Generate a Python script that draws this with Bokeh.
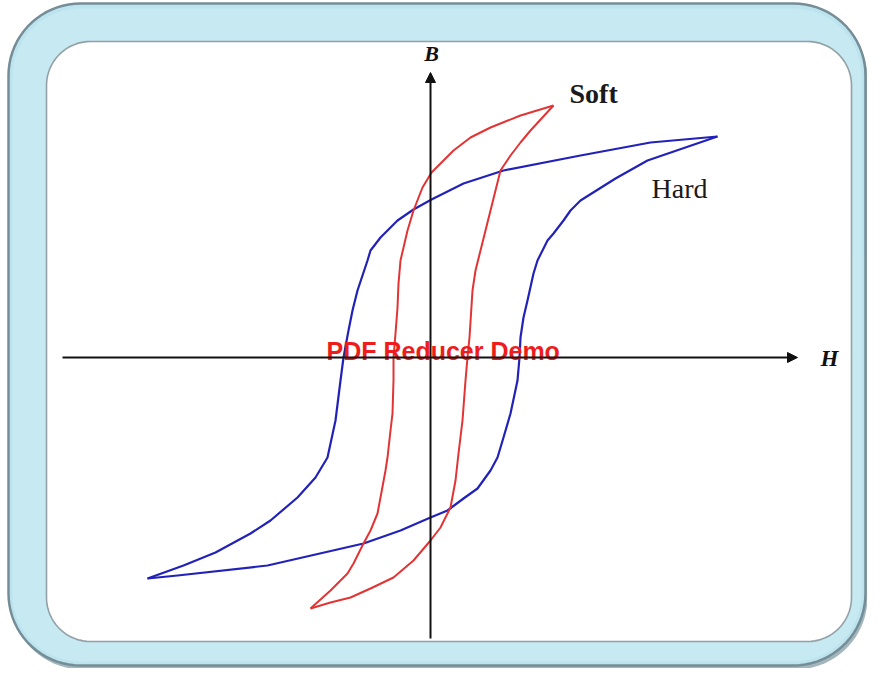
import numpy as np
from bokeh.plotting import figure
from bokeh.models import Range1d, Arrow, NormalHead
from bokeh.core.properties import value
from bokeh.embed import file_html
from bokeh.resources import INLINE

# ---------------- data (H, B in arbitrary units) ----------------
hard_desc_H = [28.7, 22.0, 15.0, 7.3, 3.3, 0.1, -1.7, -3.3, -5.0, -6.0, -6.3, -7.3, -7.8, -8.2,
               -8.7, -9.0, -9.5, -10.3, -11.5, -13.3, -16.0, -18.0, -21.5, -24.7, -28.3]
hard_desc_B = [22.1, 21.5, 20.2, 18.7, 17.4, 15.8, 14.8, 13.7, 12.0, 10.7, 9.7, 6.7, 4.7, 2.7,
               0.0, -2.3, -6.3, -10.0, -12.0, -14.0, -16.3, -17.6, -19.5, -20.8, -22.1]
hard_asc_H = [-28.3, -25.3, -16.3, -6.7, -3.0, 0.0, 1.7, 3.3, 4.7, 6.0, 6.7, 7.3, 8.0, 8.7, 8.9,
              9.0, 9.3, 9.7, 10.3, 10.7, 11.7, 12.3, 13.3, 14.0, 15.0, 18.5, 21.7, 28.7]
hard_asc_B = [-22.1, -21.8, -20.8, -18.6, -17.3, -16.0, -15.3, -14.1, -13.1, -11.3, -10.0, -8.0,
              -5.6, -2.3, 0.0, 2.0, 4.0, 5.7, 8.4, 9.7, 11.7, 12.4, 13.7, 14.7, 15.7, 17.9, 19.7, 22.1]

soft_desc_H = [12.3, 9.0, 6.0, 4.0, 2.3, 1.3, 0.1, -0.8, -1.7, -2.3, -3.0, -3.2, -3.3, -3.5, -3.7,
               -3.7, -3.8, -4.0, -4.3, -4.5, -5.0, -5.3, -6.0, -6.7, -7.7, -8.3, -10.0, -12.0]
soft_desc_B = [25.2, 24.2, 23.0, 22.0, 20.7, 19.7, 18.5, 17.0, 14.7, 12.7, 9.7, 7.4, 5.0, 2.4, 0.0,
               -2.3, -5.6, -7.3, -10.0, -11.3, -14.0, -15.6, -17.3, -18.6, -20.6, -21.6, -23.3, -25.1]
soft_asc_H = [-12.0, -10.0, -8.0, -6.0, -3.7, -1.7, 0.0, 1.0, 2.0, 2.5, 2.8, 3.2, 3.5, 3.7, 3.9,
              4.2, 4.5, 5.0, 6.0, 7.0, 8.0, 9.0, 10.0, 12.3]
soft_asc_B = [-25.1, -24.5, -24.0, -23.1, -22.0, -20.3, -18.3, -17.0, -15.0, -12.3, -9.6, -6.3, -2.3,
              0.0, 2.0, 6.7, 8.7, 10.7, 14.7, 18.7, 20.2, 21.5, 22.7, 25.2]

curve_labels = ["Soft", "Hard"]
axis_labels = ["B", "H"]
watermark = "PDF Reducer Demo"

# ---------------- layout helpers (screen px -> data units) ----------------
W, HGT = 867, 668
OX, OY, S = 430.0, 357.0, 10.0


def dx(px):
    return (np.asarray(px, dtype=float) - OX) / S


def dy(py):
    return (OY - np.asarray(py, dtype=float)) / S


def rrect(x0, y0, x1, y1, r, n=20):
    xs, ys = [], []
    corners = [((x0 + r, y0 + r), np.pi, 1.5 * np.pi),
               ((x1 - r, y0 + r), 1.5 * np.pi, 2 * np.pi),
               ((x1 - r, y1 - r), 0.0, 0.5 * np.pi),
               ((x0 + r, y1 - r), 0.5 * np.pi, np.pi)]
    for (cx, cy), a0, a1 in corners:
        t = np.linspace(a0, a1, n)
        xs.extend(cx + r * np.cos(t))
        ys.extend(cy + r * np.sin(t))
    return dx(xs), dy(ys)


p = figure(width=W, height=HGT, output_backend="svg", toolbar_location=None,
           x_range=Range1d(float(dx(0)), float(dx(W))),
           y_range=Range1d(float(dy(HGT)), float(dy(0))),
           min_border=0, x_axis_location=None, y_axis_location=None)
p.grid.visible = False
p.outline_line_color = None
p.background_fill_color = "white"
p.border_fill_color = "white"

# ---------------- frame ----------------
xs, ys = rrect(10, 6, 867, 669, 72)
p.patch(xs, ys, fill_color="#a3b6bd", line_color=None)
xs, ys = rrect(8, 3, 865, 665, 72)
p.patch(xs, ys, fill_color="#bde4ee", line_color="#758d97", line_width=2.5)
xs, ys = rrect(12, 8, 861, 661, 68)
p.patch(xs, ys, fill_color="#c6e9f2", line_color=None)
xs, ys = rrect(46, 41, 851, 641, 44)
p.patch(xs, ys, fill_color="#ffffff", line_color="#93a1a7", line_width=1.6)

# ---------------- axes with arrows ----------------
h_axis_H = [float(dx(62)), float(dx(797))]
b_axis_B = [float(dy(638)), float(dy(72))]
p.add_layout(Arrow(end=NormalHead(size=10, fill_color="#111111", line_color="#111111"),
                   x_start=h_axis_H[0], y_start=0, x_end=h_axis_H[1], y_end=0,
                   line_color="#111111", line_width=2))
p.add_layout(Arrow(end=NormalHead(size=10, fill_color="#111111", line_color="#111111"),
                   x_start=0, y_start=b_axis_B[0], x_end=0, y_end=b_axis_B[1],
                   line_color="#111111", line_width=2))

# ---------------- loops ----------------
blue = "#2222b8"
red = "#e23434"
p.line(hard_desc_H, hard_desc_B, line_color=blue, line_width=2.2, line_join="round")
p.line(hard_asc_H, hard_asc_B, line_color=blue, line_width=2.2, line_join="round")
p.line(soft_desc_H, soft_desc_B, line_color=red, line_width=2, line_join="round")
p.line(soft_asc_H, soft_asc_B, line_color=red, line_width=2, line_join="round")

# ---------------- texts ----------------
p.text(x=[float(dx(569))], y=[float(dy(93))], text=[curve_labels[0]],
       text_font=value("Liberation Serif"), text_font_size="28px", text_font_style="bold",
       text_color="#1a1a1a", text_align="left", text_baseline="middle")
p.text(x=[float(dx(651))], y=[float(dy(188))], text=[curve_labels[1]],
       text_font=value("Liberation Serif"), text_font_size="28px", text_font_style="normal",
       text_color="#1a1a1a", text_align="left", text_baseline="middle")
p.text(x=[float(dx(431))], y=[float(dy(53))], text=[axis_labels[0]],
       text_font=value("Liberation Serif"), text_font_size="22px", text_font_style="bold italic",
       text_color="#111111", text_align="center", text_baseline="middle")
p.text(x=[float(dx(829))], y=[float(dy(358))], text=[axis_labels[1]],
       text_font=value("Liberation Serif"), text_font_size="23px", text_font_style="bold italic",
       text_color="#111111", text_align="center", text_baseline="middle")
p.text(x=[float(dx(326))], y=[float(dy(350))], text=[watermark],
       text_font=value("Liberation Sans"), text_font_size="25px", text_font_style="bold",
       text_color="#ee1c1c", text_align="left", text_baseline="middle")

open("out.html", "w").write(file_html(p, INLINE))
